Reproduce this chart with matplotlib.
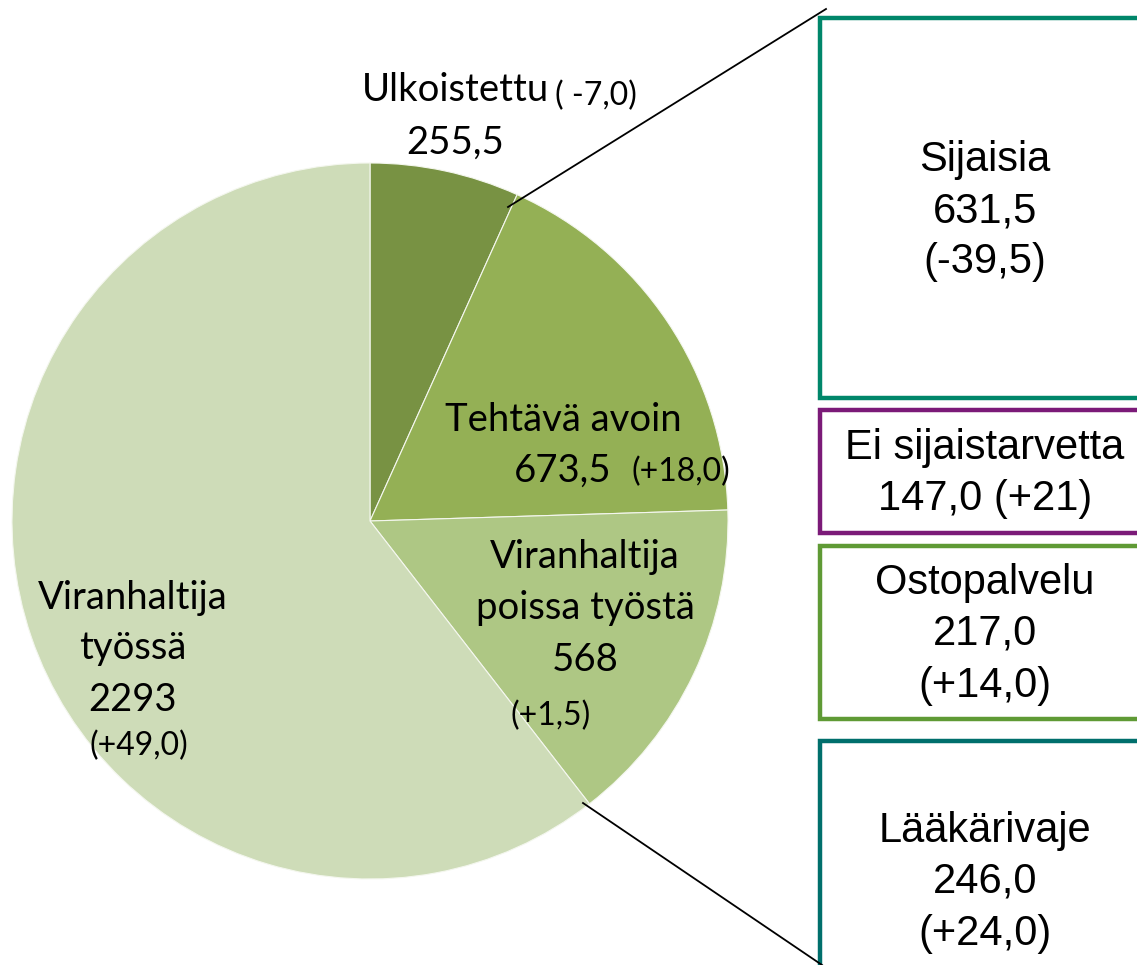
import matplotlib
matplotlib.use('Agg')
import matplotlib.pyplot as plt
from matplotlib.patches import Rectangle

W, H = 1137, 965

# pie slices (clockwise from top)
labels = ['Ulkoistettu', 'Tehtävä avoin', 'Viranhaltija poissa työstä', 'Viranhaltija työssä']
values = [255.5, 673.5, 568, 2293]
changes = ['( -7,0)', '(+18,0)', '(+1,5)', '(+49,0)']
colors = ['#789243', '#94B055', '#AEC784', '#CEDCB8']

# breakdown boxes of "Tehtävä avoin"
box_names = ['Sijaisia', 'Ei sijaistarvetta', 'Ostopalvelu', 'Lääkärivaje']
box_values = ['631,5', '147,0', '217,0', '246,0']
box_changes = ['(-39,5)', '(+21)', '(+14,0)', '(+24,0)']
box_colors = ['#00866A', '#7B1A78', '#5F9A35', '#006F6C']

fig = plt.figure(figsize=(W / 100, H / 100), dpi=100)
ax = fig.add_axes([0, 0, 1, 1])

def Y(y):
    return H - y

cx, cy, r = 370, 521, 358
ax.pie(values, colors=colors, startangle=90, counterclock=False,
       center=(cx, Y(cy)), radius=r, frame=True,
       wedgeprops=dict(edgecolor='#F4F7EE', linewidth=0.8))
ax.set_xlim(0, W)
ax.set_ylim(0, H)
ax.axis('off')

big = dict(fontsize=27.5, family='Lato', ha='center', va='center', color='black')
small = dict(fontsize=23, family='Lato', ha='center', va='center', color='black')

# Ulkoistettu
ax.text(362, Y(90), labels[0], fontsize=27.5, family='Lato', ha='left', va='center')
ax.text(596, Y(96), changes[0], **small)
ax.text(455, Y(143), '255,5', **big)
# Tehtävä avoin
ax.text(563, Y(420), labels[1], **big)
ax.text(563, Y(471), '673,5', **big)
ax.text(681, Y(472), changes[1], **small)
# Viranhaltija poissa työstä
ax.text(585, Y(557), 'Viranhaltija', **big)
ax.text(585, Y(608), 'poissa työstä', **big)
ax.text(585, Y(660), '568', **big)
ax.text(551, Y(716), changes[2], **small)
# Viranhaltija työssä
ax.text(133, Y(598), 'Viranhaltija', **big)
ax.text(133, Y(648), 'työssä', **big)
ax.text(133, Y(700), '2293', **big)
ax.text(139, Y(746), changes[3], **small)

# connector lines
ax.plot([508, 826], [Y(207), Y(9)], color='black', lw=1.3)
ax.plot([583, 822], [Y(803), Y(965)], color='black', lw=1.3)

# boxes: (top, bottom) in pixels
box_spans = [(18, 398), (410, 533), (546, 719), (741, 990)]
box_x0, box_x1 = 820, 1152
for i, (top, bot) in enumerate(box_spans):
    ax.add_patch(Rectangle((box_x0, Y(bot)), box_x1 - box_x0, bot - top,
                           facecolor='white', edgecolor=box_colors[i], lw=3.2))

bt = dict(fontsize=30, family='Liberation Sans', ha='center', va='center', color='black')
tx = 985
ax.text(tx, Y(160), box_names[0], **bt)
ax.text(tx, Y(211), box_values[0], **bt)
ax.text(tx, Y(262), box_changes[0], **bt)
ax.text(tx, Y(448), box_names[1], **bt)
ax.text(tx, Y(499), box_values[1] + ' ' + box_changes[1], **bt)
ax.text(tx, Y(583), box_names[2], **bt)
ax.text(tx, Y(634), box_values[2], **bt)
ax.text(tx, Y(686), box_changes[2], **bt)
ax.text(tx, Y(831), box_names[3], **bt)
ax.text(tx, Y(882), box_values[3], **bt)
ax.text(tx, Y(934), box_changes[3], **bt)

fig.savefig('out.png', dpi=100)
